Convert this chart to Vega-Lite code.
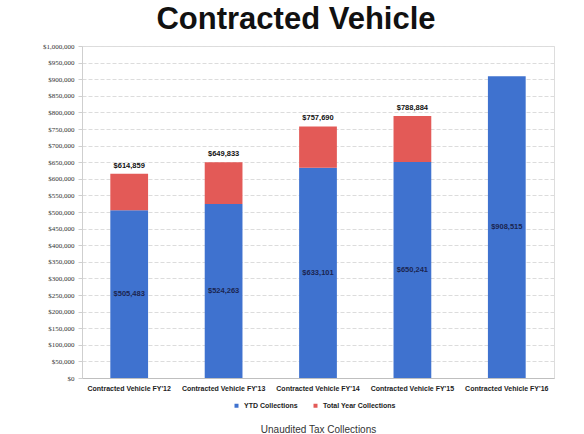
{
  "$schema": "https://vega.github.io/schema/vega-lite/v6.json",
  "autosize": {"type": "none"},
  "width": 472,
  "height": 332,
  "padding": {"left": 82, "top": 46, "right": 30, "bottom": 56},
  "background": "white",
  "config": {
    "axisY": {"tickCount": 20, "labelOverlap": false, "format": "$,.0f", "labelFontSize": 7, "labelFont": "Liberation Serif", "labelColor": "#333333", "gridColor": "#dcdcdc", "gridDash": [4, 2], "domainColor": "#cfcfcf", "tickColor": "#cfcfcf", "tickSize": 4, "labelPadding": 4, "title": null}
  },
  "title": {"text": "Contracted Vehicle", "fontSize": 31, "font": "Liberation Sans", "fontWeight": "bold", "color": "#111111", "anchor": "middle", "dx": -22, "offset": 6},
  "data": {"values": [
    {"cat": "Contracted Vehicle FY'12", "ytd": 505483, "total": 614859},
    {"cat": "Contracted Vehicle FY'13", "ytd": 524263, "total": 649833},
    {"cat": "Contracted Vehicle FY'14", "ytd": 633101, "total": 757690},
    {"cat": "Contracted Vehicle FY'15", "ytd": 650241, "total": 788884},
    {"cat": "Contracted Vehicle FY'16", "ytd": 908515, "total": null}
  ]},
  "encoding": {
    "x": {"field": "cat", "type": "nominal", "sort": null,
      "scale": {"paddingInner": 0.6, "paddingOuter": 0.3},
      "axis": {"title": "Unaudited Tax Collections", "titleFontSize": 10, "titleFontWeight": "normal", "titleFont": "Liberation Sans", "titleColor": "#333333", "titlePadding": 33,
        "labelAngle": 0, "labelFontSize": 7, "labelFontWeight": "bold", "labelFont": "Liberation Sans", "labelColor": "#222222", "ticks": false, "domainColor": "#bfbfbf", "labelPadding": 6}}
  },
  "layer": [
    {"mark": {"type": "bar"},
     "encoding": {
       "y": {"field": "ytd", "type": "quantitative", "title": null,
         "scale": {"domain": [0, 1000000]}},
       "color": {"datum": "YTD Collections", "type": "nominal",
         "scale": {"domain": ["YTD Collections", "Total Year Collections"], "range": ["#3F72CF", "#E35A57"]},
         "legend": {"title": null, "orient": "none", "legendX": 151, "legendY": 356, "direction": "horizontal", "symbolType": "square", "symbolSize": 16, "labelFontSize": 7, "labelFontWeight": "bold", "labelFont": "Liberation Sans", "labelColor": "#222222", "columnPadding": 14}}
     }},
    {"transform": [{"filter": "datum.total != null"}],
     "mark": {"type": "bar"},
     "encoding": {
       "y": {"field": "ytd", "type": "quantitative", "title": null},
       "y2": {"field": "total"},
       "color": {"datum": "Total Year Collections", "type": "nominal"}
     }},
    {"transform": [{"calculate": "datum.ytd / 2", "as": "mid"}, {"calculate": "'$' + format(datum.ytd, ',')", "as": "lab"}],
     "mark": {"type": "text", "fontSize": 7.5, "fontWeight": "bold", "font": "Liberation Sans", "color": "#1b2550", "baseline": "middle"},
     "encoding": {
       "y": {"field": "mid", "type": "quantitative", "title": null},
       "text": {"field": "lab"}
     }},
    {"transform": [{"filter": "datum.total != null"}, {"calculate": "'$' + format(datum.total, ',')", "as": "lab"}],
     "mark": {"type": "text", "fontSize": 7.5, "fontWeight": "bold", "font": "Liberation Sans", "color": "#111111", "baseline": "bottom", "dy": -4},
     "encoding": {
       "y": {"field": "total", "type": "quantitative", "title": null},
       "text": {"field": "lab"}
     }}
  ]
}
